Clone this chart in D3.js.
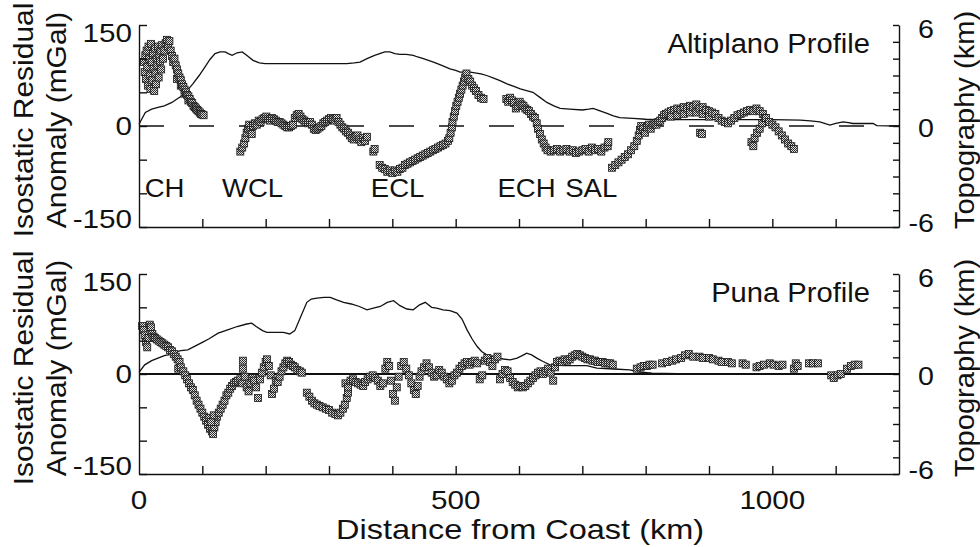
<!DOCTYPE html>
<html>
<head>
<meta charset="utf-8">
<script src="https://cdn.jsdelivr.net/npm/d3@7"></script>
<style>
body{margin:0;background:#fff;}
text{font-family:"Liberation Sans",Arial,Helvetica,sans-serif;fill:#111;}
</style>
</head>
<body>
<svg id="chart" width="980" height="547"></svg>
<script>

// TICKS AND LABELS
var distTicks = [100,200,300,400,500,600,700,800,900,1000,1100];
var distLabels = [0,500,1000];
var gravTicks = [-150,-100,-50,0,50,100,150];
var gravLabels = [150,0,-150];
var topoTicks = [-6,-5,-4,-3,-2,-1,0,1,2,3,4,5,6];
var topoLabels = [6,0,-6];

// REGIONS ALONG THE ALTIPLANO PROFILE
var regionNames = ["CH","WCL","ECL","ECH","SAL"];
var regionKm = [9,131,366,566,673];

// ALTIPLANO : [distance km, residual mGal]
var altiGrav = [
 [8,95],[9,80],[10,105],[11,70],[12,112],[13,88],[14,60],[15,118],[16,100],[17,75],[18,55],[19,122],
 [20,95],[21,68],[22,108],[23,85],[24,52],[25,115],[26,78],[27,62],[28,100],[29,90],[30,118],[31,72],
 [32,105],[33,96],[34,112],[35,84],[36,120],[38,100],[40,112],[42,123],[44,128],[46,118],[48,126],
 [50,112],[52,104],[54,95],[56,100],[58,90],[60,84],[60,70],[62,78],[64,72],[66,68],[66,60],[68,62],
 [70,58],[72,54],[72,48],[74,50],[76,46],[78,44],[78,38],[80,40],[82,36],[84,34],[86,30],[88,28],
 [90,26],[92,24],[94,22],[96,20],[98,18],[100,17],[102,16],
 [160,-38],[163,-32],[166,-26],[168,-18],[170,-10],[172,-4],[174,2],[176,-6],[178,-12],[180,0],
 [183,4],[186,2],[189,8],[192,6],[195,10],[198,12],[201,14],[204,10],[207,8],[210,12],[213,10],
 [216,8],[219,6],[222,6],[225,4],[228,2],[231,0],[234,-2],[237,-2],[240,0],[243,2],[246,12],
 [249,16],[252,18],[255,14],[258,10],[261,8],[264,6],[267,4],[270,6],[273,2],[276,-4],[279,-6],
 [282,-4],[285,-2],[288,0],[291,4],[294,6],[297,8],[300,10],[303,12],[306,10],[309,8],[312,12],
 [315,6],[318,2],[321,-2],[324,-4],[327,-8],[330,-10],[333,-14],[336,-18],[339,-20],[342,-16],
 [345,-14],[348,-20],[351,-24],[354,-18],[357,-22],[360,-16],[370,-38],[372,-34],
 [380,-58],[384,-62],[388,-64],[392,-68],[396,-66],[400,-70],[404,-66],[408,-68],[412,-64],
 [416,-62],[420,-58],[424,-56],[428,-54],[432,-52],[436,-50],[440,-48],[444,-46],[448,-44],
 [452,-42],[456,-40],[460,-38],[464,-36],[468,-34],[472,-32],[476,-30],[480,-28],[484,-26],
 [488,-22],[490,-18],[492,-10],[494,-2],[495,6],[497,14],[499,22],[501,30],[503,36],[505,42],
 [507,48],[509,54],[511,60],[513,66],[515,72],[517,78],[520,70],[523,66],[526,60],[529,56],
 [532,52],[536,46],[540,42],[544,40],
 [580,40],[583,36],[586,42],[589,38],[592,34],[595,26],[598,30],[601,36],[604,32],[607,30],
 [610,26],[613,24],[616,22],[619,18],[622,14],[625,12],[628,4],[630,-4],[633,-12],[636,-20],
 [639,-26],[642,-32],[645,-36],[650,-38],[655,-36],[660,-34],[665,-38],[670,-36],[675,-34],
 [680,-38],[685,-36],[690,-40],[695,-38],[700,-36],[705,-34],[710,-38],[715,-32],[720,-36],
 [725,-34],[730,-38],[735,-32],[740,-30],[741,-24],
 [747,-62],[752,-58],[757,-54],[762,-50],[767,-46],[772,-42],[777,-36],[782,-30],[786,-22],
 [789,-14],[791,-6],[793,0],[796,-4],[799,-10],[802,-2],[805,2],[808,-4],[811,2],[814,4],
 [817,2],[820,6],[823,8],[826,12],[829,16],[832,18],[836,20],[840,22],[840,14],[845,24],[850,26],
 [850,16],[855,24],[860,28],[860,18],[865,26],[870,30],[870,20],[875,28],[880,32],[880,20],
 [885,26],[886,-10],[889,-12],[890,28],[890,18],[895,24],[900,22],[900,14],[905,20],[910,18],
 [915,12],[920,8],[925,6],[930,4],[935,8],[940,12],[945,16],[950,18],[955,20],[960,22],[965,24],
 [967,-24],[970,22],[970,-30],[972,-18],[975,26],[976,-10],[980,22],[980,-4],[984,4],[985,18],
 [988,12],[990,12],[995,6],[1000,2],[1005,-2],[1010,-8],[1015,-14],[1020,-20],[1025,-26],
 [1030,-30],[1034,-34]
];

// ALTIPLANO : [distance km, elevation km]
var altiTopo = [
 [0,0.1],[10,0.8],[20,1.0],[30,1.1],[40,1.2],[52,1.4],[60,1.6],[68,1.8],[76,2.1],[85,2.5],
 [95,3.0],[104,3.5],[112,3.95],[120,4.3],[128,4.4],[136,4.4],[141,4.3],[147,4.2],[155,4.35],
 [163,4.4],[170,4.2],[180,3.9],[190,3.75],[199,3.7],[230,3.7],[260,3.7],[300,3.7],[328,3.7],
 [340,3.75],[349,3.8],[360,4.0],[372,4.2],[380,4.3],[388,4.4],[396,4.4],[404,4.3],[412,4.25],
 [422,4.25],[433,4.2],[440,4.1],[449,4.0],[457,3.9],[465,3.8],[478,3.6],[491,3.4],[500,3.3],
 [507,3.2],[523,3.2],[540,3.1],[549,3.0],[560,2.85],[570,2.7],[581,2.5],[592,2.35],[602,2.2],
 [612,2.1],[622,2.0],[633,1.7],[644,1.4],[655,1.2],[665,1.05],[680,1.0],[700,0.95],[710,1.0],
 [717,1.05],[728,0.9],[739,0.75],[749,0.6],[759,0.5],[780,0.45],[800,0.4],[823,0.38],[900,0.38],
 [1000,0.38],[1044,0.35],[1060,0.3],[1075,0.25],[1085,0.12],[1091,0.05],[1100,0.15],[1112,0.25],
 [1120,0.2],[1127,0.15],[1159,0.15],[1165,0.02],[1200,0.0]
];

// PUNA : [distance km, residual mGal]
var punaGrav = [
 [5,72],[7,66],[9,58],[11,48],[13,40],[15,54],[17,74],[19,70],[21,60],[23,56],[25,54],[28,52],
 [31,50],[34,48],[37,46],[40,44],[43,42],[46,40],[49,36],[52,34],[55,30],[58,26],[61,22],[64,18],
 [62,8],[66,10],[70,4],[73,-2],[76,-8],[79,-14],[82,-20],[85,-24],[88,-32],[91,-40],[94,-46],
 [97,-52],[100,-58],[103,-64],[106,-70],[109,-76],[112,-82],[115,-86],[117,-90],[119,-80],
 [121,-72],[123,-64],[111,-66],[114,-72],[118,-62],[126,-58],[129,-52],[132,-46],[135,-40],
 [138,-32],[141,-28],[144,-22],[147,-18],[150,-14],[153,-12],[156,-10],[160,-8],[163,-14],
 [164,8],[164,20],[167,-4],[170,-20],[173,-26],[176,-14],[179,-6],[182,-10],[185,-20],[188,-36],
 [191,-8],[194,2],[197,10],[200,18],[202,22],[205,12],[208,-2],[210,-30],[213,-22],[216,-10],
 [219,-12],[222,-4],[225,4],[228,10],[231,16],[234,20],[237,18],[240,14],[243,12],[246,10],
 [250,6],[254,4],[257,2],
 [265,-28],[269,-34],[273,-40],[277,-44],[281,-46],[285,-48],[290,-50],[295,-52],[300,-54],
 [305,-58],[310,-60],[314,-62],[318,-58],[322,-52],[325,-46],[328,-36],[330,-28],[326,-14],
 [330,-20],[334,-10],[338,-8],[342,-12],[346,-14],[350,-16],[354,-18],[357,-12],[361,-8],
 [365,-4],[369,-2],[373,-6],[377,-10],[381,-18],[385,-14],[389,8],[392,18],[395,12],[398,-10],
 [401,-30],[404,-40],[407,-20],[410,-4],[414,12],[418,18],[422,8],[426,-2],[430,-14],[434,-24],
 [437,-30],[440,-18],[443,-4],[446,4],[450,10],[454,16],[458,10],[462,2],[466,-4],[470,-2],
 [474,6],[478,2],[482,-4],[486,-8],[490,-14],[494,-10],[498,-2],[502,2],[506,8],[510,12],
 [514,16],[518,18],[522,14],[526,18],[530,20],[534,16],[538,-8],[542,-2],[546,20],[550,24],
 [554,18],[558,12],[562,22],[566,26],[570,-8],[574,0],[578,6],[582,4],[586,-6],[590,-12],
 [594,-16],[598,-20],[602,-18],[606,-20],[610,-18],[614,-14],[618,-10],[622,-6],[626,-2],
 [630,2],[634,4],[638,0],[642,4],[646,8],[650,2],[654,-10],[657,10],[660,18],[664,20],[668,18],
 [672,22],[676,20],[680,22],[684,26],[688,28],[692,30],[696,28],[700,26],[704,24],[708,22],
 [712,22],[716,20],[720,20],[724,18],[728,18],[732,18],[736,16],[740,16],[744,16],[748,14],
 [786,8],[792,10],[797,12],[802,12],[806,14],[811,14],[826,16],[834,18],[842,20],[848,22],
 [856,24],[862,28],[868,30],[875,26],[885,26],[890,24],[900,24],[906,22],[915,20],[920,18],
 [930,18],[936,16],[953,16],[958,14],[975,10],[980,12],[987,14],[996,16],[1002,14],[1010,12],
 [1016,14],[1034,8],[1037,16],[1040,12],[1058,16],[1064,16],[1072,16],[1093,-2],[1097,-6],
 [1103,-2],[1108,0],[1118,8],[1124,12],[1130,14],[1136,14]
];

// PUNA : [distance km, elevation km]
var punaTopo = [
 [0,0.1],[9,0.55],[20,0.8],[30,0.95],[40,1.1],[46,1.15],[55,1.3],[66,1.4],[77,1.45],[90,1.7],
 [100,1.9],[110,2.1],[125,2.45],[140,2.65],[155,2.85],[170,3.0],[178,3.05],[185,2.85],[195,2.6],
 [202,2.5],[215,2.5],[228,2.5],[238,2.4],[246,2.6],[255,3.4],[265,4.3],[272,4.5],[281,4.55],
 [292,4.6],[302,4.6],[312,4.45],[323,4.3],[335,4.2],[348,4.05],[360,3.85],[370,3.95],[381,4.05],
 [392,4.3],[402,4.4],[412,4.1],[423,3.9],[433,3.85],[443,4.15],[452,4.3],[462,4.0],[470,3.95],
 [480,3.85],[491,3.8],[502,3.65],[510,3.3],[518,2.65],[526,2.1],[534,1.65],[541,1.35],[549,1.15],
 [557,1.05],[565,1.0],[575,0.9],[586,0.85],[597,0.95],[605,1.1],[612,1.25],[620,1.15],[628,0.95],
 [638,0.75],[649,0.55],[670,0.5],[690,0.5],[707,0.5],[723,0.35],[750,0.3],[775,0.25],[790,0.12],
 [810,0.05],[850,0.02],[1200,0.0]
];


var svg = d3.select('#chart');

// SHARED DISTANCE SCALE
var x = d3.scaleLinear().domain([0,1200]).range([139,899]);

// STIPPLE FOR THE GRAVITY MARKERS
var pat = svg.append("defs").append("pattern")
    .attr("id","stipple")
    .attr("width",2).attr("height",2)
    .attr("patternUnits","userSpaceOnUse");
pat.append("rect").attr("width",2).attr("height",2).attr("fill","#e0e0e0");
pat.append("rect").attr("width",1).attr("height",1).attr("fill","#2a2a2a");
pat.append("rect").attr("x",1).attr("y",1).attr("width",1).attr("height",1).attr("fill","#2a2a2a");

draw_panel(altiGrav, altiTopo, 25, 227, "Altiplano Profile", true);
draw_panel(punaGrav, punaTopo, 274, 474, "Puna Profile", false);

// REGION NAMES ON TOP PANEL
var yTop = d3.scaleLinear().domain([-150,150]).range([227,25]);
regionNames.forEach(function(n,i){
    add_text(x(regionKm[i]), yTop(-105), n, 26, "start", 1.06, 0, null);
});

// DISTANCE LABELS UNDER BOTTOM PANEL
distLabels.forEach(function(d){
    add_text(x(d), 500, d, 26, "middle", 1.14, 0, "central");
});

add_text(520, 539, "Distance from Coast (km)", 28, "middle", 1.16, 0, null);


// TEXT WITH A LITTLE HORIZONTAL STRETCH, LIKE THE SCANNED FIGURE
function add_text(px, py, str, size, anchor, sx, rot, baseline){
    var tr = "translate("+px+","+py+")";
    if(rot) tr += " rotate("+rot+")";
    tr += " scale("+sx+",1)";
    svg.append("text")
        .attr("transform",tr)
        .attr("text-anchor",anchor)
        .attr("dominant-baseline",baseline)
        .attr("font-size",size)
        .text(str);
}


function draw_panel(grav, topo, top, bottom, name, dashed){

    var yG = d3.scaleLinear().domain([-150,150]).range([bottom,top]);
    var yT = d3.scaleLinear().domain([-6,6]).range([bottom,top]);

    // ZERO LINE
    svg.append("line")
        .attr("x1",x(0)).attr("x2",x(1200))
        .attr("y1",yG(0)).attr("y2",yG(0))
        .attr("stroke","#111")
        .attr("stroke-width",dashed ? 1.6 : 1.8)
        .attr("stroke-dasharray",dashed ? "25,25" : null);

    // TOPOGRAPHY
    var line = d3.line()
        .x(function(d){ return x(d[0]); })
        .y(function(d){ return yT(d[1]); });
    svg.append("path")
        .datum(topo)
        .attr("d",line)
        .attr("fill","none")
        .attr("stroke","#111")
        .attr("stroke-width",1.3);

    // GRAVITY MARKERS
    svg.append("g").selectAll("rect")
        .data(grav)
        .enter().append("rect")
        .attr("x",function(d){ return x(d[0])-3.5; })
        .attr("y",function(d){ return yG(d[1])-3.5; })
        .attr("width",7).attr("height",7)
        .attr("fill","url(#stipple)")
        .attr("stroke","#1a1a1a")
        .attr("stroke-width",0.8);

    // AXES, TICKS POINT INWARD
    var gl = svg.append("g").attr("transform","translate("+x(0)+",0)")
        .call(d3.axisLeft(yG).tickValues(gravTicks).tickSize(-8).tickSizeOuter(0).tickFormat(""));
    var gr = svg.append("g").attr("transform","translate("+x(1200)+",0)")
        .call(d3.axisRight(yT).tickValues(topoTicks).tickSize(-6).tickSizeOuter(0).tickFormat(""));
    var gb = svg.append("g").attr("transform","translate(0,"+bottom+")")
        .call(d3.axisBottom(x).tickValues(distTicks).tickSize(-8).tickSizeOuter(0).tickFormat(""));
    [gl,gr,gb].forEach(function(g){
        g.selectAll("path,line").attr("stroke","#111").attr("stroke-width",1.4);
    });

    // LEFT LABELS
    gravLabels.forEach(function(v){
        add_text(132, yG(v) + (v>0 ? 8 : v<0 ? -8 : 0), v, 26, "end", 1.14, 0, "central");
    });

    // RIGHT LABELS
    topoLabels.forEach(function(v){
        add_text(934, yT(v) + (v>0 ? 4 : v<0 ? -4 : 2), v, 26, "end", 1.1, 0, "central");
    });

    var mid = (top+bottom)/2;

    // AXIS TITLES
    add_text(33, mid-6, "Isostatic Residual", 28, "middle", 1.07, -90, null);
    add_text(66, mid-6, "Anomaly (mGal)", 28, "middle", 1.07, -90, null);
    add_text(974, mid-6, "Topography (km)", 28, "middle", 1.04, -90, null);

    // PROFILE NAME
    add_text(870, top+28, name, 27, "end", 1.08, 0, null);
}
</script>
</body>
</html>
